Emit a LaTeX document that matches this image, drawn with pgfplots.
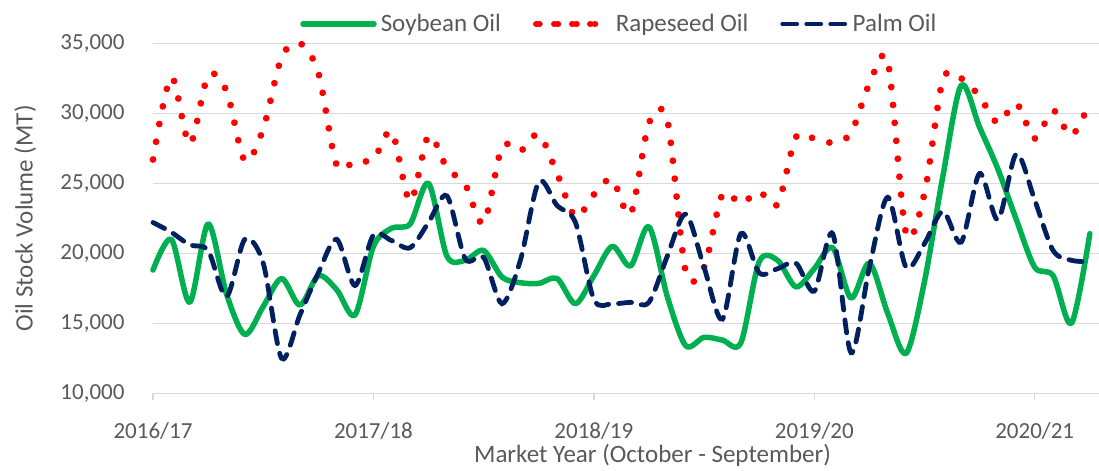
\documentclass[border=0pt]{standalone}
\usepackage{pgfplots}
\pgfplotsset{compat=1.18}
\usepackage{pgfplotstable}
\usepackage{fontspec}
\setmainfont{Carlito}
\definecolor{soy}{HTML}{00B050}
\definecolor{rape}{HTML}{FF0000}
\definecolor{palm}{HTML}{002060}
\definecolor{txt}{HTML}{595959}
\definecolor{grd}{HTML}{D9D9D9}

\pgfplotstableread{
m soy rape palm
0 18800 26700 22200
1 21000 32600 21500
2 16500 27800 20600
3 22100 32700 20200
4 17100 31600 16900
5 14200 26600 21000
6 16200 28900 19300
7 18200 34000 12500
8 16300 35000 15600
9 18400 32900 18600
10 17400 26300 21000
11 15600 26600 17700
12 20500 26700 21300
13 21800 28700 20900
14 22100 23700 20400
15 25000 28400 22200
16 19800 26100 24100
17 19500 24900 19600
18 20200 22150 19700
19 18300 27600 16400
20 17900 27300 19500
21 17850 28500 25100
22 18200 25700 23400
23 16400 22600 22200
24 18400 24200 16700
25 20500 25300 16400
26 19100 22800 16500
27 21900 29300 16500
28 16900 29500 19800
29 13400 18700 22800
30 14000 19000 19000
31 13800 24200 15300
32 13600 23550 21400
33 19400 24400 18600
34 19500 23500 18900
35 17600 28300 19300
36 18900 28200 17300
37 20400 27900 21400
38 16800 28600 12900
39 19300 32100 19000
40 15700 33700 24000
41 12850 21400 19000
42 18000 24300 20700
43 25500 32400 23000
44 32000 32500 20800
45 29000 31200 25700
46 26000 29300 22400
47 22400 30700 27100
48 19000 28200 23800
49 18400 30200 20200
50 15000 28400 19500
51 21400 30800 19400
}\data

\begin{document}
\begin{tikzpicture}
\path[use as bounding box] (0,0) rectangle (1099bp,471bp);
\begin{axis}[
  at={(153bp,77.7bp)}, anchor=south west,
  width=946bp, height=350bp, scale only axis,
  xmin=0, xmax=51.5, ymin=10000, ymax=35000,
  clip=false,
  axis line style={draw=none},
  scaled y ticks=false,
  ytick={10000,15000,20000,25000,30000,35000},
  ymajorgrids, grid style={grd, line width=1.5bp},
  ytick style={draw=none},
  xtick={0,12,24,36,48},
  xticklabels={2016/17,2017/18,2018/19,2019/20,2020/21},
  xtick pos=bottom, tick align=outside,
  major tick length=7bp,
  xtick style={draw=grd, line width=1.5bp},
  /pgf/number format/1000 sep={,},
  /pgf/number format/assume math mode=true,
  tick label style={font=\fontsize{23bp}{27bp}\selectfont, text=txt},
  yticklabel style={xshift=-18bp},
  xticklabel style={anchor=base, yshift=-38bp},
  xlabel={Market Year (October - September)},
  xlabel style={at={(axis description cs:0.528,-0.199)}, anchor=base, font=\fontsize{25bp}{30bp}\selectfont, text=txt},
  ylabel={Oil Stock Volume (MT)},
  ylabel style={at={(axis description cs:-0.135,0.5)}, anchor=center, font=\fontsize{25bp}{30bp}\selectfont, text=txt},
  legend style={at={(axis description cs:0.493,1.055)}, anchor=center, draw=none, fill=none,
    legend columns=3, font=\fontsize{25bp}{30bp}\selectfont, text=txt,
    /tikz/every odd column/.append style={column sep=2bp},
    /tikz/every even column/.append style={column sep=30bp}},
]
\addplot[soy, line width=5.5bp, smooth, line cap=round, line join=round,
  legend image code/.code={\draw[soy, line width=5.5bp, line cap=round] (0bp,0bp) -- (71bp,0bp);}]
  table[x=m, y=soy] {\data};
\addlegendentry{Soybean Oil}
\addplot[rape, line width=6.8bp, smooth, line cap=round, dash pattern=on 0.01bp off 18bp,
  legend image code/.code={\path (0bp,0bp) -- (72bp,0bp); \draw[rape, line width=6.8bp, line cap=round, dash pattern=on 0.01bp off 18.5bp] (3bp,0bp) -- (60bp,0bp);}]
  table[x=m, y=rape] {\data};
\addlegendentry{Rapeseed Oil}
\addplot[palm, line width=4.8bp, smooth, line cap=round, dash pattern=on 13bp off 10bp,
  legend image code/.code={\draw[palm, line width=4.8bp, line cap=round, dash pattern=on 14bp off 10bp] (2.4bp,0bp) -- (66bp,0bp);}]
  table[x=m, y=palm] {\data};
\addlegendentry{Palm Oil}
\end{axis}
\end{tikzpicture}
\end{document}
